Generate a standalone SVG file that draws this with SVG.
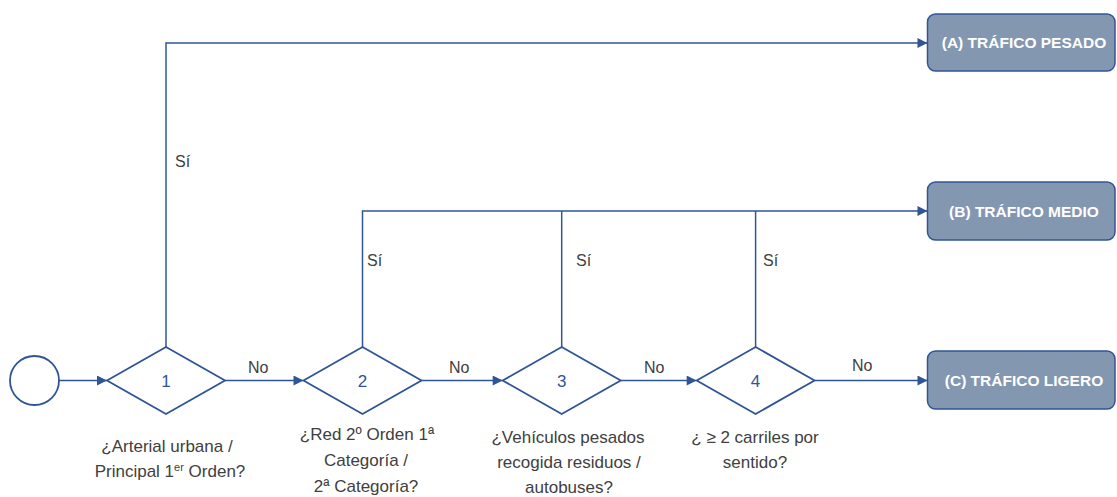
<svg xmlns="http://www.w3.org/2000/svg" width="1117" height="497" viewBox="0 0 1117 497">
<style>
.ln{fill:none;stroke:#2F5597;stroke-width:1.5}
.shape{fill:#FFFFFF;stroke:#2F5597;stroke-width:1.8}
.box{fill:#8497B0;stroke:#2F5597;stroke-width:1.5}
.bt{font-family:"Liberation Sans",Arial,sans-serif;font-weight:bold;font-size:15.5px;fill:#FFFFFF;text-anchor:middle}
.num{font-family:"Liberation Sans",Arial,sans-serif;font-size:17px;fill:#2F5597;text-anchor:middle}
.q{font-family:"Liberation Sans",Arial,sans-serif;font-size:17px;fill:#404040;text-anchor:middle}
.lb{font-family:"Liberation Sans",Arial,sans-serif;font-size:16px;fill:#404040}
</style>
<defs>
<marker id="arr" viewBox="0 0 10 10" refX="10" refY="5" markerWidth="11" markerHeight="10" markerUnits="userSpaceOnUse" orient="auto">
<path d="M0,0 L10,5 L0,10 Z" fill="#2F5597"/>
</marker>
</defs>
<g id="connectors">
<path class="ln" d="M59,380.5 H107" marker-end="url(#arr)"/>
<path class="ln" d="M225,380.5 H303.5" marker-end="url(#arr)"/>
<path class="ln" d="M421.5,380.5 H502.7" marker-end="url(#arr)"/>
<path class="ln" d="M620.7,380.5 H696.7" marker-end="url(#arr)"/>
<path class="ln" d="M814.5,380.5 H927.5" marker-end="url(#arr)"/>
<path class="ln" d="M166,347 V43 H927.5" marker-end="url(#arr)"/>
<path class="ln" d="M362.5,347 V211 H927.5" marker-end="url(#arr)"/>
<path class="ln" d="M561.7,347 V211"/>
<path class="ln" d="M755.6,347 V211"/>
<text class="lb" x="248" y="373">No</text>
<text class="lb" x="449" y="373">No</text>
<text class="lb" x="644" y="373">No</text>
<text class="lb" x="852" y="371">No</text>
<text class="lb" x="175" y="167">Sí</text>
<text class="lb" x="367" y="266">Sí</text>
<text class="lb" x="576" y="266">Sí</text>
<text class="lb" x="763" y="266">Sí</text>
</g>
<g id="start">
<circle class="shape" cx="34.5" cy="380.5" r="24.5"/>
</g>
<g id="d1">
<polygon class="shape" points="107,380.5 166,347 225,380.5 166,414"/>
<text class="num" x="166" y="386.5">1</text>
<text class="q" x="167" y="452">¿Arterial urbana /</text>
<text class="q" x="170" y="477">Principal 1<tspan font-size="11" dy="-6">er</tspan><tspan dy="6"> Orden?</tspan></text>
</g>
<g id="d2">
<polygon class="shape" points="303.5,380.5 362.5,347 421.5,380.5 362.5,414"/>
<text class="num" x="362.5" y="386.5">2</text>
<text class="q" x="367" y="440">¿Red 2º Orden 1ª</text>
<text class="q" x="366" y="466">Categoría /</text>
<text class="q" x="366" y="492">2ª Categoría?</text>
</g>
<g id="d3">
<polygon class="shape" points="502.7,380.5 561.7,347 620.7,380.5 561.7,414"/>
<text class="num" x="561.7" y="386.5">3</text>
<text class="q" x="568" y="443">¿Vehículos pesados</text>
<text class="q" x="569" y="468">recogida residuos /</text>
<text class="q" x="569" y="493">autobuses?</text>
</g>
<g id="d4">
<polygon class="shape" points="696.7,380.5 755.6,347 814.5,380.5 755.6,414"/>
<text class="num" x="755.6" y="386.5">4</text>
<text class="q" x="755" y="443">¿ ≥ 2 carriles por</text>
<text class="q" x="755" y="468">sentido?</text>
</g>
<g id="boxA">
<rect class="box" x="927.5" y="14" width="187.5" height="57" rx="8"/>
<text class="bt" x="1024" y="48">(A) TRÁFICO PESADO</text>
</g>
<g id="boxB">
<rect class="box" x="927.5" y="182" width="187.5" height="58" rx="8"/>
<text class="bt" x="1024" y="217">(B) TRÁFICO MEDIO</text>
</g>
<g id="boxC">
<rect class="box" x="927.5" y="351" width="187.5" height="58" rx="8"/>
<text class="bt" x="1024" y="386">(C) TRÁFICO LIGERO</text>
</g>
</svg>
